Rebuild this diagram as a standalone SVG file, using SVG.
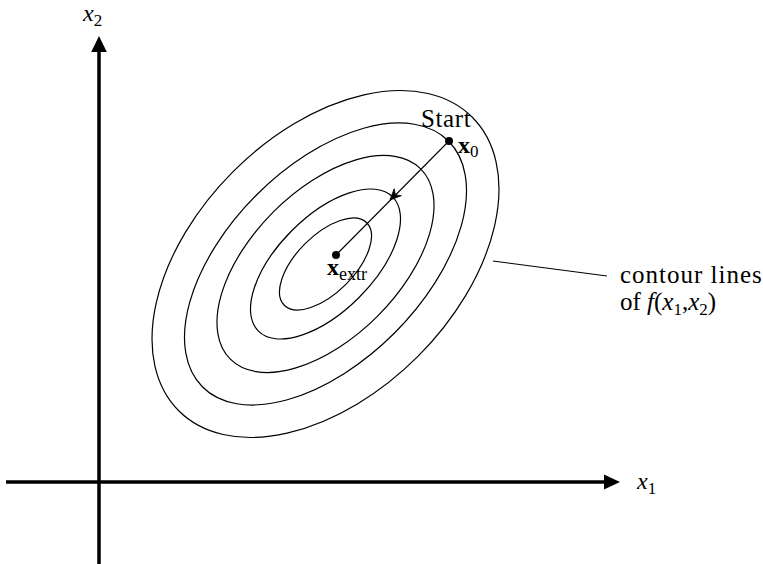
<svg xmlns="http://www.w3.org/2000/svg" width="763" height="564" viewBox="0 0 763 564">
<style>
.axis{stroke:#000;stroke-width:3.5;fill:none}
.contour{stroke:#000;stroke-width:1.2;fill:none}
.thin{stroke:#000;stroke-width:1.1;fill:none}
</style>
<rect width="763" height="564" fill="#fff"/>
<g id="axes" font-family="'Liberation Serif', 'DejaVu Serif', serif">
<line class="axis" x1="6" y1="482" x2="606" y2="482"/>
<polygon points="620,482 604,474.5 604,489.5" fill="#000"/>
<line class="axis" x1="99" y1="564" x2="99" y2="50"/>
<polygon points="99,36 91.2,52 106.8,52" fill="#000"/>
<text id="label-x1" x="637" y="489" font-size="24" font-style="italic">x<tspan font-size="17" font-style="normal" dy="5">1</tspan></text>
<text id="label-x2" x="83" y="21" font-size="24" font-style="italic">x<tspan font-size="17" font-style="normal" dy="5">2</tspan></text>
</g>
<g id="contours" transform="translate(325.5,264) rotate(-45)">
<ellipse class="contour" cx="0" cy="0" rx="207.6" ry="130.7"/>
<ellipse class="contour" cx="0" cy="0" rx="173.9" ry="97.6"/>
<ellipse class="contour" cx="0" cy="0" rx="134.6" ry="73.7"/>
<ellipse class="contour" cx="0" cy="0" rx="94.9" ry="47.4"/>
<ellipse class="contour" cx="0" cy="0" rx="58.3" ry="28.8"/>
</g>
<g id="start" font-family="'Liberation Serif', 'DejaVu Serif', serif">
<circle cx="449" cy="141" r="4"/>
<text x="421" y="127" font-size="25" letter-spacing="0.6">Start</text>
<text x="458" y="153" font-size="24" font-weight="bold">x<tspan font-size="17" font-weight="normal" dy="4">0</tspan></text>
</g>
<g id="extremum" font-family="'Liberation Serif', 'DejaVu Serif', serif">
<circle cx="336" cy="255" r="4"/>
<text x="327" y="275" font-size="24" font-weight="bold">x<tspan font-size="18" font-weight="normal" dy="5">extr</tspan></text>
</g>
<g id="label-contours" font-family="'Liberation Serif', 'DejaVu Serif', serif">
<text x="620" y="283" font-size="25" letter-spacing="1">contour lines</text>
<text x="620" y="310" font-size="25">of <tspan font-style="italic">f</tspan>(<tspan font-style="italic">x</tspan><tspan font-size="17" dy="5">1</tspan><tspan dy="-5">,</tspan><tspan font-style="italic">x</tspan><tspan font-size="17" dy="5">2</tspan><tspan dy="-5">)</tspan></text>
</g>
<g id="connectors">
<line class="thin" x1="449" y1="141" x2="336" y2="255"/>
<path d="M390,200 L401.3,195.7 L395.4,194.9 L394.2,188.7 Z" fill="#000" stroke="#000" stroke-width="0.8" stroke-linejoin="round"/>
<line class="thin" x1="493" y1="261" x2="607" y2="276"/>
</g>
</svg>
